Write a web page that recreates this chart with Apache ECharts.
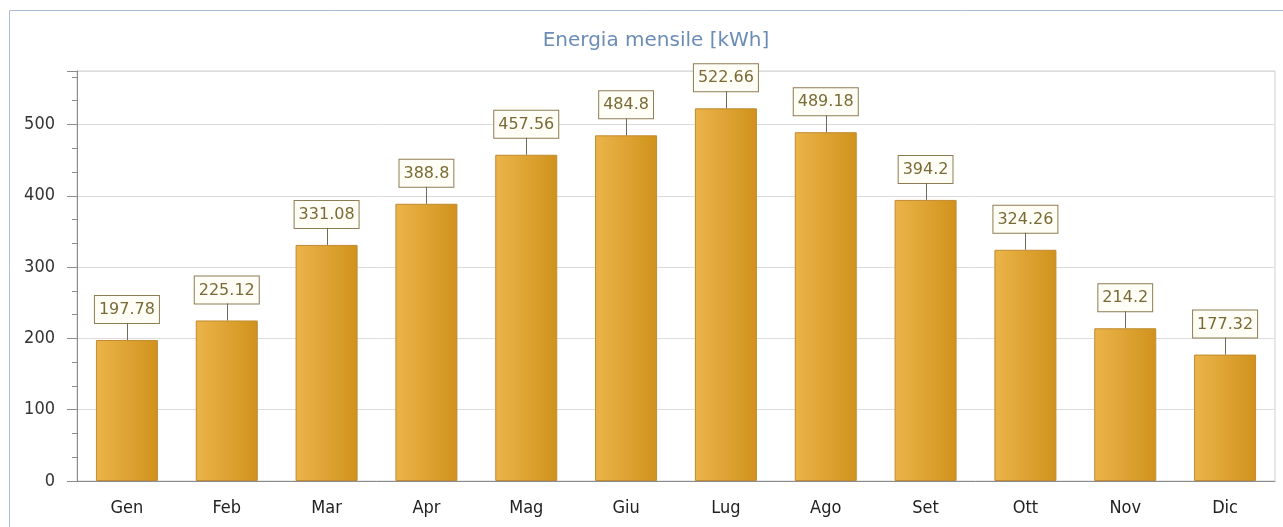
<!DOCTYPE html>
<html>
<head>
<meta charset="utf-8">
<script src="https://cdn.jsdelivr.net/npm/echarts@6/dist/echarts.min.js"></script>
<style>
html,body{margin:0;padding:0;background:#fff;}
#c{width:1283px;height:527px;}
</style>
</head>
<body>
<div id="c"></div>
<script>
const titleText = 'Energia mensile [kWh]';
const months = ['Gen','Feb','Mar','Apr','Mag','Giu','Lug','Ago','Set','Ott','Nov','Dic'];
const energy = [197.78, 225.12, 331.08, 388.8, 457.56, 484.8, 522.66, 489.18, 394.2, 324.26, 214.2, 177.32];
const yMin = 0, yMax = 575, yStep = 100;

const FONT = "'DejaVu Sans Condensed', 'DejaVu Sans', sans-serif";
const FONT_WIDE = "'DejaVu Sans', sans-serif";
const LABEL_GAP = 17;

const chart = echarts.init(document.getElementById('c'), null, {renderer: 'canvas'});
chart.setOption({
  animation: false,
  backgroundColor: '#ffffff',
  graphic: [{
    type: 'rect',
    shape: {x: 9.5, y: 10.5, width: 1400, height: 800},
    style: {fill: 'none', stroke: '#a9bdd6', lineWidth: 1},
    silent: true, z: -1
  }],
  title: {
    text: titleText,
    left: 651, top: 26, textAlign: 'center',
    textStyle: {fontFamily: FONT_WIDE, fontSize: 20, fontWeight: 'normal', color: '#6b8db5'}
  },
  grid: {
    left: 77, right: 8, top: 71, bottom: 46,
    show: true, borderColor: '#cfcfcf', borderWidth: 1, backgroundColor: 'transparent'
  },
  xAxis: {
    type: 'category',
    data: months,
    axisLine: {lineStyle: {color: '#8c8c8c'}},
    axisTick: {alignWithLabel: true, length: 10, lineStyle: {color: '#8c8c8c'}},
    axisLabel: {fontFamily: FONT, fontSize: 18, color: '#222', margin: 18},
    splitLine: {show: false}
  },
  yAxis: {
    type: 'value',
    min: yMin, max: yMax, interval: yStep,
    axisLine: {show: true, lineStyle: {color: '#8c8c8c'}},
    axisTick: {show: true, length: 10, lineStyle: {color: '#8c8c8c'}},
    minorTick: {show: true, splitNumber: 3, length: 5, lineStyle: {color: '#8c8c8c'}},
    axisLabel: {fontFamily: FONT, fontSize: 18, color: '#333', margin: 22, showMaxLabel: false},
    splitLine: {show: true, lineStyle: {color: '#dcdcdc'}}
  },
  series: [{
    type: 'bar',
    data: energy,
    barWidth: 62,
    itemStyle: {
      color: new echarts.graphic.LinearGradient(0, 0, 1, 0, [
        {offset: 0, color: '#ebb44a'},
        {offset: 1, color: '#d0921c'}
      ]),
      borderColor: '#c08a30', borderWidth: 1
    },
    label: {
      show: true, position: 'top', distance: LABEL_GAP,
      fontFamily: FONT_WIDE, fontSize: 16, color: '#7a6a36',
      backgroundColor: '#fffef6', borderColor: '#8c7c52', borderWidth: 1,
      padding: [5, 4, 4, 4], lineHeight: 18
    },
    z: 2
  }, {
    type: 'custom',
    data: energy.map((v, i) => [i, v]),
    renderItem: function (params, api) {
      const p = api.coord([api.value(0), api.value(1)]);
      return {
        type: 'line',
        shape: {x1: Math.round(p[0]) + 0.5, y1: p[1], x2: Math.round(p[0]) + 0.5, y2: p[1] - LABEL_GAP},
        style: {stroke: '#6e6a5c', lineWidth: 1}
      };
    },
    z: 3, silent: true
  }]
});
</script>
</body>
</html>
